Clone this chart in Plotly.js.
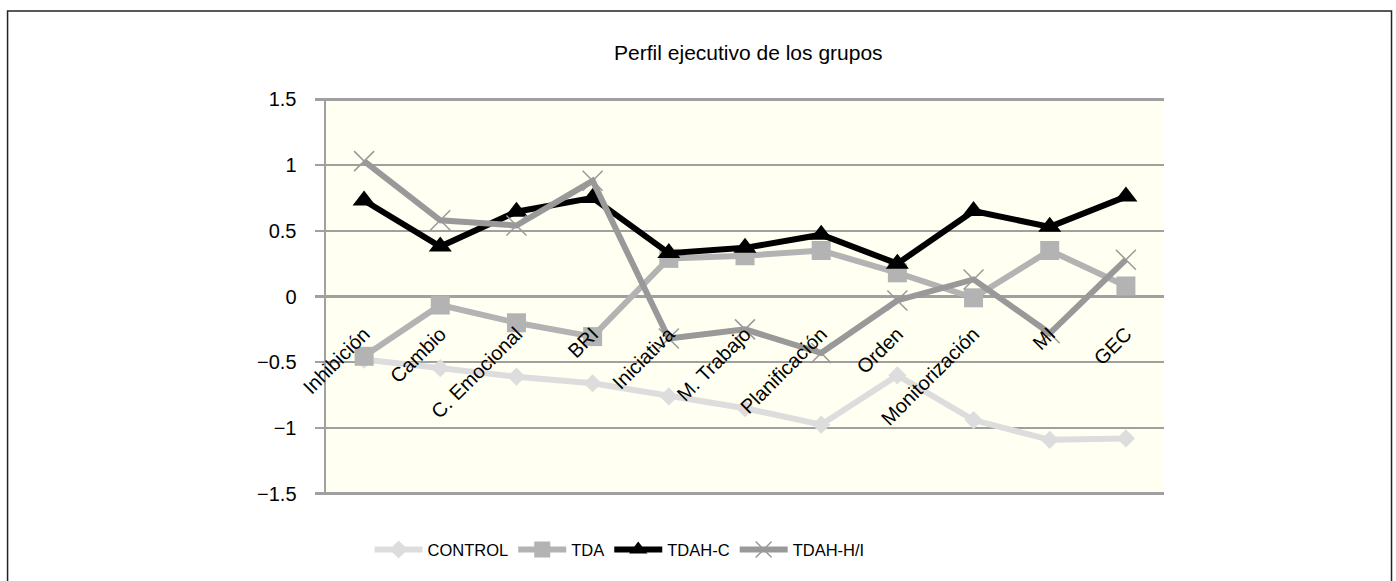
<!DOCTYPE html>
<html>
<head>
<meta charset="utf-8">
<script src="https://cdn.plot.ly/plotly-3.0.1.min.js"></script>
<style>html,body{margin:0;padding:0;background:#fff;}#chart{width:1396px;height:581px;}</style>
</head>
<body>
<div id="chart"></div>
<script>
const categories = ['Inhibición','Cambio','C. Emocional','BRI','Iniciativa','M. Trabajo','Planificación','Orden','Monitorización','MI','GEC'];
const control = [-0.48,-0.545,-0.61,-0.66,-0.76,-0.85,-0.975,-0.60,-0.94,-1.09,-1.08];
const tda = [-0.455,-0.065,-0.20,-0.305,0.29,0.31,0.35,0.18,-0.01,0.35,0.08];
const tdahC = [0.73,0.38,0.645,0.75,0.33,0.37,0.47,0.25,0.65,0.53,0.76];
const tdahHI = [1.03,0.58,0.54,0.88,-0.32,-0.25,-0.43,-0.03,0.13,-0.28,0.28];
const yTicks = [-1.5,-1,-0.5,0,0.5,1,1.5];

const traces = [
  {name:'CONTROL', x:categories, y:control, mode:'lines+markers', line:{color:'#dddddd', width:6},
   marker:{symbol:'diamond', size:14, color:'#dddddd'}},
  {name:'TDA', x:categories, y:tda, mode:'lines+markers', line:{color:'#b3b3b3', width:6},
   marker:{symbol:'square', size:19, color:'#b3b3b3'}},
  {name:'TDAH-C', x:categories, y:tdahC, mode:'lines+markers', line:{color:'#000000', width:6},
   marker:{symbol:'triangle-up', size:20, color:'#000000'}},
  {name:'TDAH-H/I', x:categories, y:tdahHI, mode:'lines+markers', line:{color:'#999999', width:6},
   marker:{symbol:'x-thin', size:20, color:'#999999', line:{color:'#999999', width:1.5}}}
];

const layout = {
  width:1396, height:581,
  margin:{l:326, r:232, t:98, b:86},
  paper_bgcolor:'#ffffff', plot_bgcolor:'#fffff2',
  font:{family:'"Liberation Sans", Arial, sans-serif', color:'#000', size:20},
  title:{text:'Perfil ejecutivo de los grupos', font:{size:21, color:'#000'},
    xref:'paper', x:0.504, xanchor:'center', yref:'container', y:0.909, yanchor:'middle'},
  xaxis:{type:'category', categoryorder:'array', categoryarray:categories, range:[-0.5,10.5],
    anchor:'free', position:0.5, showgrid:false, showline:false, zeroline:false, ticks:'',
    tickangle:-45, tickfont:{size:20, color:'#000'}, ticklabelstandoff:21},
  yaxis:{range:[-1.51,1.51], tickvals:yTicks, showgrid:true, gridcolor:'#a0a0a0', gridwidth:2.5,
    zeroline:false, showline:true, linecolor:'#a0a0a0', linewidth:2.5, ticks:'outside', ticklen:9,
    tickcolor:'#a0a0a0', tickwidth:2.5, tickfont:{size:20, color:'#000'}, ticklabelstandoff:14},
  showlegend:true,
  legend:{orientation:'h', x:0.052, xanchor:'left', y:-0.138, yanchor:'middle', itemwidth:48,
    font:{family:'"Liberation Sans Narrow", "Arial Narrow", "Liberation Sans", sans-serif', size:16.5, color:'#000'},
    bgcolor:'rgba(0,0,0,0)'},
  shapes:[{type:'rect', xref:'paper', yref:'paper', x0:-0.380, x1:1.2715, y0:-0.24, y1:1.219,
    line:{color:'#222', width:1.5}, fillcolor:'rgba(0,0,0,0)', layer:'below'}]
};

Plotly.newPlot('chart', traces, layout, {displayModeBar:false, staticPlot:true});
</script>
</body>
</html>
